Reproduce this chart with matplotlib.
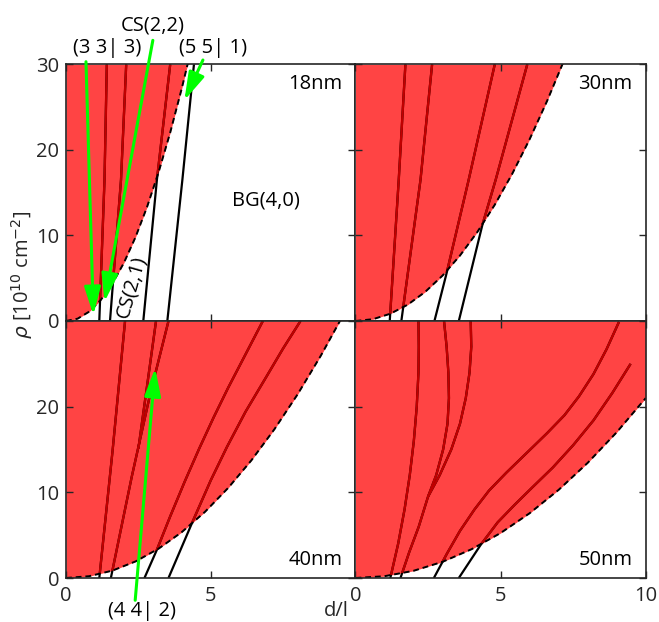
import matplotlib
matplotlib.use("Agg")
import matplotlib.pyplot as plt
from matplotlib.patches import ArrowStyle

plt.rcParams['font.family'] = ['Open Sans', 'DejaVu Sans']
plt.rcParams['mathtext.fontset'] = 'dejavusans'

# ---------------- data (d/l , rho) ----------------
panel_labels = ["18nm", "30nm", "40nm", "50nm"]

# boundary of red region (dashed)
b18_d = [0, 0.4, 0.8, 1.2, 1.6, 2.0, 2.4, 2.8, 3.2, 3.6, 4.0, 4.25]
b18_r = [0, 0.27, 1.09, 2.45, 4.35, 6.8, 9.79, 13.33, 17.41, 22.03, 27.2, 30.7]
b30_d = [0, 0.6, 1.2, 1.8, 2.4, 3.0, 3.6, 4.2, 4.8, 5.4, 6.0, 6.6, 7.15]
b30_r = [0, 0.21, 0.85, 1.91, 3.40, 5.31, 7.65, 10.41, 13.59, 17.2, 21.24, 25.7, 30.16]
b40_d = [0, 0.8, 1.6, 2.4, 3.2, 4.0, 4.8, 5.6, 6.4, 7.2, 8.0, 8.8, 9.5]
b40_r = [0, 0.21, 0.86, 1.93, 3.43, 5.36, 7.72, 10.51, 13.72, 17.37, 21.44, 25.94, 30.23]
b50_d = [0, 1, 2, 3, 4, 5, 6, 7, 8, 9, 10]
b50_r = [0, 0.21, 0.84, 1.89, 3.36, 5.25, 7.56, 10.29, 13.44, 17.01, 21.0]

# state lines, 18nm
l18 = [
    ([1.15, 1.33, 1.41], [0, 16.5, 30]),
    ([1.52, 1.90, 2.08], [0, 16.5, 30]),
    ([2.67, 3.14, 3.60], [0, 16.5, 30]),
    ([3.50, 4.02, 4.42], [0, 16.5, 30]),
]
# 30nm
l30 = [
    ([1.18, 1.49, 1.72], [0, 16.5, 30]),
    ([1.58, 2.24, 2.64], [0, 16.5, 30]),
    ([2.72, 3.14, 3.90, 4.80], [0, 5.6, 16.5, 30]),
    ([3.56, 4.37, 4.83, 5.92], [0, 11.2, 16.5, 30]),
]
# 40nm
l40 = [
    ([1.15, 1.61, 2.04], [0, 14.9, 30]),
    ([1.55, 2.27, 2.91, 3.54], [0, 11.8, 21.5, 30]),
    ([2.71, 3.14, 3.60, 4.10, 4.60, 5.10, 5.60, 6.20, 6.80],
     [0, 3.3, 7.2, 11.25, 15.1, 18.75, 22.2, 26.1, 30]),
    ([3.54, 4.35, 5.00, 5.56, 6.20, 6.94, 7.50, 8.10],
     [0, 6.4, 11.4, 15.3, 19.4, 23.6, 26.8, 30]),
    ([2.50, 3.11], [15.1, 30]),
]
# 50nm
l50 = [
    ([1.20, 1.47, 1.69, 1.87, 2.01, 2.11, 2.17, 2.18, 2.17],
     [0, 4, 8, 12, 16, 20, 24, 27, 30]),
    ([1.55, 1.85, 2.18, 2.50, 2.78, 3.02, 3.17, 3.22, 3.20, 3.14, 3.05],
     [0, 3, 6, 9.5, 12, 15, 18, 21, 24, 27, 30]),
    ([2.50, 2.90, 3.30, 3.60, 3.80, 3.93, 3.99, 3.97],
     [9.5, 12, 15, 18, 21, 24, 27, 30]),
    ([2.70, 3.16, 3.60, 4.10, 4.60, 5.20, 5.90, 6.60, 7.20, 7.70, 8.20, 8.65, 9.08],
     [0, 2.9, 5.5, 8.0, 10.2, 12.3, 14.6, 16.9, 19.0, 21.2, 23.8, 26.7, 29.9]),
    ([3.56, 4.31, 4.90, 5.50, 6.10, 6.80, 7.50, 8.20, 8.85, 9.48],
     [0, 3.85, 6.5, 8.6, 10.6, 12.9, 15.5, 18.4, 21.6, 25.0]),
]

boundaries = [(b18_d, b18_r), (b30_d, b30_r), (b40_d, b40_r), (b50_d, b50_r)]
lines = [l18, l30, l40, l50]

xticks = [0, 5, 10]
yticks = [0, 10, 20, 30]

RED = '#ff4444'
DARKRED = '#c00000'
GREEN = '#00ff00'
AXC = '#262626'
FS = 14.5

W, H = 659, 622
fig = plt.figure(figsize=(W / 100, H / 100), dpi=100)

def fx(px):
    return px / W

def fy(py):
    return 1 - py / H

xl = [66, 355.5]
xr = [355.5, 645.7]
yt = [64.3, 321]
yb = [321, 578]

axes = []
for i in range(4):
    col = i % 2
    row = i // 2
    x0, x1 = (xl if col == 0 else xr)
    y0, y1 = (yt if row == 0 else yb)
    ax = fig.add_axes([fx(x0), fy(y1), fx(x1) - fx(x0), (y1 - y0) / H])
    axes.append(ax)

for i, ax in enumerate(axes):
    bd, br = boundaries[i]
    poly = ax.fill_between(bd, br, 30, color=RED, lw=0, zorder=1)
    ax.plot(bd, br, color='black', lw=1.4, ls=(0, (3, 2)), zorder=4)
    clip_path = poly.get_paths()[0]
    for d, r in lines[i]:
        ax.plot(d, r, color='black', lw=1.6, zorder=2, solid_capstyle='butt')
        ln, = ax.plot(d, r, color=DARKRED, lw=1.7, zorder=3, solid_capstyle='butt')
        ln.set_clip_path(clip_path, poly.get_transform())
    ax.set_xlim(0, 10)
    ax.set_ylim(0, 30)
    ax.set_xticks(xticks)
    ax.set_yticks(yticks)
    ax.tick_params(direction='in', length=5, width=1, top=True, right=True,
                   labelsize=FS, colors=AXC)
    ax.tick_params(axis='x', pad=6)
    ax.tick_params(axis='y', pad=5)
    for s in ax.spines.values():
        s.set_color(AXC)
        s.set_linewidth(1.2)
        s.set_zorder(6)
    col = i % 2
    row = i // 2
    if col == 1:
        ax.set_yticklabels([])
    elif row == 1:
        ax.set_yticklabels(['0', '10', '20', ''])
    if row == 0:
        ax.set_xticklabels([])
    elif col == 0:
        ax.set_xticklabels(['0', '5', ''])
    ypos = 27.7 if row == 0 else 2.1
    ax.text(9.55, ypos, panel_labels[i], ha='right', va='center', fontsize=FS, color='black', zorder=7)

ax0 = axes[0]
ax2 = axes[2]
ax0.text(6.9, 14.1, 'BG(4,0)', ha='center', va='center', fontsize=FS, zorder=7)
ax0.text(2.27, 4.0, 'CS(2,1)', ha='center', va='center', fontsize=FS, rotation=74, zorder=7)

arrow_style = ArrowStyle('-|>', head_length=0.85, head_width=0.25)

def arrow(ax, start, tip):
    ax.annotate('', xy=tip, xytext=start, xycoords='data', textcoords='data',
                annotation_clip=False,
                arrowprops=dict(arrowstyle=arrow_style, color=GREEN, lw=2.2,
                                mutation_scale=20, shrinkA=0, shrinkB=0),
                zorder=8)

arrow(ax0, (0.69, 30.3), (0.945, 0.7))
arrow(ax0, (3.0, 32.8), (1.33, 2.25))
arrow(ax0, (4.73, 30.5), (4.09, 25.8))
arrow(ax2, (2.39, -2.6), (3.08, 24.5))

ax0.text(1.42, 31.9, '(3 3| 3)', ha='center', va='center', fontsize=FS, clip_on=False)
ax0.text(2.98, 34.55, 'CS(2,2)', ha='center', va='center', fontsize=FS, clip_on=False)
ax0.text(5.09, 31.9, '(5 5| 1)', ha='center', va='center', fontsize=FS, clip_on=False)
ax2.text(2.62, -3.8, '(4 4| 2)', ha='center', va='center', fontsize=FS, clip_on=False)

fig.text(fx(22), fy(275), r'$\rho$ [10$^{10}$ cm$^{-2}$]', rotation=90, ha='center', va='center',
         fontsize=FS, color=AXC)
fig.text(fx(336), fy(611), 'd/l', ha='center', va='center', fontsize=FS, color=AXC)

fig.savefig('out.png', dpi=100)
